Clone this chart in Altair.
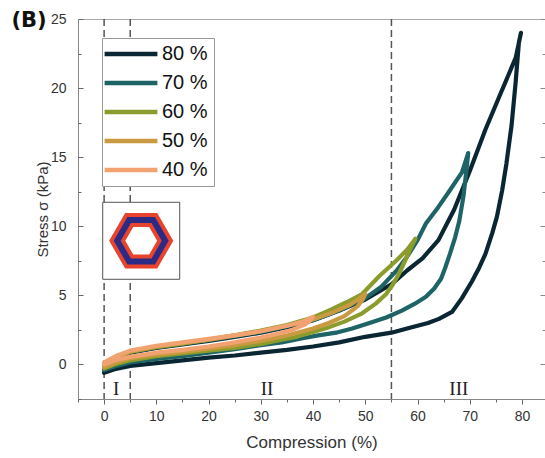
import altair as alt
import pandas as pd

# ---------------- data ----------------
series_names = ["80 %", "70 %", "60 %", "50 %", "40 %"]
series_colors = ["#0b2633", "#1e6466", "#8c9c2c", "#c99a42", "#f2a270"]

x80_load = [0, 1, 2.5, 5, 10, 15, 20, 25, 30, 35, 40, 45, 50, 55, 58, 61, 64, 67, 70, 73, 76, 78.8, 79.8]
y80_load = [-0.4, 0.1, 0.5, 0.85, 1.2, 1.45, 1.7, 2.0, 2.3, 2.7, 3.2, 3.9, 4.7, 5.8, 6.8, 7.7, 9.0, 11.2, 14.0, 17.0, 19.7, 22.2, 24.0]
x80_unload = [79.8, 79.4, 78.8, 78, 77, 76.2, 75.2, 74.3, 73, 71.8, 70.4, 68.5, 66.6, 64.1, 62, 58, 55, 50, 45, 40, 35, 30, 25, 20, 15, 10, 5, 2, 0]
y80_unload = [24.0, 23.3, 20.5, 17.3, 14.5, 12.6, 10.7, 9.5, 8.0, 7.0, 6.0, 4.8, 3.8, 3.3, 3.0, 2.6, 2.3, 2.0, 1.6, 1.3, 1.05, 0.85, 0.65, 0.5, 0.3, 0.1, -0.1, -0.35, -0.6]

x70_load = [0, 2.5, 5, 10, 15, 20, 25, 30, 35, 40, 45, 50, 53, 56, 58, 60, 61.6, 64, 66, 68.5, 69.7]
y70_load = [-0.1, 0.5, 0.9, 1.25, 1.5, 1.75, 2.05, 2.35, 2.75, 3.2, 3.9, 4.8, 5.6, 6.8, 7.8, 9.0, 10.2, 11.4, 12.5, 13.9, 15.3]
x70_unload = [69.7, 69.4, 68.8, 68, 67.2, 66.2, 65.3, 64.5, 63.2, 61.6, 59.5, 57, 54, 50.8, 47.5, 44.4, 41, 38, 34, 30, 25, 20, 15, 10, 5, 2, 0]
y70_unload = [15.3, 14.2, 12.2, 10.4, 9.2, 8.0, 7.0, 6.2, 5.5, 4.9, 4.4, 3.9, 3.4, 3.0, 2.6, 2.3, 2.1, 1.9, 1.6, 1.4, 1.1, 0.85, 0.6, 0.4, 0.15, -0.15, -0.4]

x60_load = [0, 2.5, 5, 10, 15, 20, 25, 30, 35, 40, 43, 46.4, 49.4, 52.7, 55.9, 58, 59.6]
y60_load = [0.0, 0.5, 0.9, 1.25, 1.5, 1.8, 2.1, 2.45, 2.85, 3.4, 3.9, 4.5, 5.1, 6.4, 7.5, 8.3, 9.1]
x60_unload = [59.6, 59.2, 58.8, 57.6, 56.5, 55.3, 54, 52, 49.4, 46, 43.1, 40, 36.8, 33.5, 30.3, 25, 20, 15, 10, 5, 2, 0]
y60_unload = [9.1, 8.8, 8.5, 7.5, 6.6, 5.8, 5.1, 4.4, 3.7, 3.1, 2.7, 2.35, 2.0, 1.75, 1.5, 1.2, 1.0, 0.8, 0.6, 0.3, 0.0, -0.3]

x50_load = [0, 2.5, 5, 10, 15, 20, 25, 30, 35, 40, 44, 47, 49, 50]
y50_load = [0.05, 0.55, 0.95, 1.3, 1.55, 1.8, 2.1, 2.4, 2.8, 3.25, 3.8, 4.3, 4.8, 5.1]
x50_unload = [50, 49.5, 48.5, 46, 43, 40, 35, 30, 25, 20, 15, 10, 5, 2, 0]
y50_unload = [5.1, 4.7, 4.2, 3.5, 3.0, 2.6, 2.1, 1.7, 1.4, 1.15, 0.9, 0.7, 0.45, 0.1, -0.2]

x40_load = [0, 2.5, 5, 10, 15, 20, 25, 30, 35, 38, 40]
y40_load = [0.15, 0.65, 1.0, 1.35, 1.6, 1.85, 2.1, 2.4, 2.8, 3.1, 3.45]
x40_unload = [40, 39.5, 38.5, 36, 33, 30, 25, 20, 15, 10, 5, 2, 0]
y40_unload = [3.45, 3.2, 2.9, 2.5, 2.2, 1.95, 1.6, 1.3, 1.05, 0.85, 0.55, 0.3, 0.0]

dash_x = [0, 5, 55]
region_labels = ["I", "II", "III"]
region_x = [2.3, 31.2, 67.9]
region_y = [-1.75, -1.75, -1.75]

inset_x = [7.1]
inset_y = [8.95]

x_ticks = [-5, 0, 5, 10, 15, 20, 25, 30, 35, 40, 45, 50, 55, 60, 65, 70, 75, 80]
y_ticks = [-2.5, 0, 2.5, 5, 7.5, 10, 12.5, 15, 17.5, 20, 22.5, 25]

# ---------------- tables ----------------
curves = {
    "80 %": (x80_load + x80_unload, y80_load + y80_unload),
    "70 %": (x70_load + x70_unload, y70_load + y70_unload),
    "60 %": (x60_load + x60_unload, y60_load + y60_unload),
    "50 %": (x50_load + x50_unload, y50_load + y50_unload),
    "40 %": (x40_load + x40_unload, y40_load + y40_unload),
}
rows = []
for name, (xs, ys) in curves.items():
    for i, (a, b) in enumerate(zip(xs, ys)):
        rows.append({"series": name, "idx": i, "x": a, "y": b})
df = pd.DataFrame(rows)
df_dash = pd.DataFrame({"x": dash_x})
df_reg = pd.DataFrame({"label": region_labels, "x": region_x, "y": region_y})
df_inset = pd.DataFrame({"x": inset_x, "y": inset_y})

FONT = "Liberation Sans"
xscale = alt.Scale(domain=[-5, 84.4], nice=False, zero=False)
yscale = alt.Scale(domain=[-2.5, 25], nice=False, zero=False)

W, H = 467, 380

x_axis_main = alt.Axis(
    values=x_ticks, title="Compression (%)",
    labelExpr="datum.value >= 0 && datum.value % 10 === 0 ? datum.label : ''",
    grid=False, domainColor="#888", tickColor="#666",
    tickSize={"condition": {"test": "datum.value % 10 !== 0", "value": 3}, "value": 5},
    labelPadding=5, labelFont=FONT, labelFontSize=14, labelColor="#333",
    titleFont=FONT, titleFontSize=17, titleFontWeight="normal", titleColor="#333", titlePadding=11,
)
y_axis_main = alt.Axis(
    values=y_ticks, title="Stress σ (kPa)",
    labelExpr="datum.value >= 0 && datum.value % 5 === 0 ? datum.label : ''",
    grid=False, domainColor="#888", ticks=False, tickSize=0, labelPadding=12,
    labelFont=FONT, labelFontSize=14, labelColor="#333",
    titleFont=FONT, titleFontSize=15, titleFontWeight="normal", titleColor="#333", titlePadding=0,
)

legend = alt.Legend(
    orient="none", legendX=24, legendY=19, title=None,
    symbolType="M-4.8,0H4.8", symbolSize=121, symbolStrokeWidth=4.5,
    symbolOffset=13, labelOffset=21,
    labelFont=FONT, labelFontSize=20, labelColor="#111",
    rowPadding=9, padding=6, strokeColor="#999", fillColor="white",
)

layers = []

# dashed region lines
layers.append(
    alt.Chart(df_dash).mark_rule(color="#555", strokeWidth=1.5, strokeDash=[7, 4]).encode(
        x=alt.X("x:Q", scale=xscale, axis=None)
    )
)

# curves, 80 % drawn first, 40 % last
for k, name in enumerate(series_names):
    first = k == 0
    layers.append(
        alt.Chart(df).transform_filter(alt.datum.series == name).mark_line(
            strokeWidth=4.2, strokeJoin="round", strokeCap="round"
        ).encode(
            x=alt.X("x:Q", scale=xscale, axis=x_axis_main if first else None),
            y=alt.Y("y:Q", scale=yscale, axis=y_axis_main if first else None),
            color=alt.Color("series:N", scale=alt.Scale(domain=series_names, range=series_colors),
                            legend=legend if first else None),
            order="idx:Q",
        )
    )

# region numerals (carry the top frame line and inward left ticks)
layers.append(
    alt.Chart(df_reg).mark_text(font="Liberation Serif", fontSize=19, color="#222").encode(
        x=alt.X("x:Q", scale=xscale, axis=alt.Axis(orient="top", ticks=False, labels=False, title=None,
                                                    grid=False, domainColor="#aaa")),
        y=alt.Y("y:Q", scale=yscale, axis=alt.Axis(orient="right", offset=-W, values=y_ticks, domain=False,
                                                    labels=False, title=None, grid=False, tickColor="#666",
                                                    tickSize={"condition": {"test": "datum.value % 5 !== 0", "value": 3}, "value": 5})),
        text="label:N",
    )
)

# inset frame (also carries inward ticks on the right edge)
layers.append(
    alt.Chart(df_inset).mark_point(shape="square", size=5929, filled=True, fill="white",
                                   stroke="#555", strokeWidth=1, opacity=1).encode(
        x=alt.X("x:Q", scale=xscale, axis=None),
        y=alt.Y("y:Q", scale=yscale, axis=alt.Axis(orient="left", offset=-W, values=y_ticks, domain=False,
                                                    labels=False, title=None, grid=False, tickColor="#888",
                                                    tickSize={"condition": {"test": "datum.value % 5 !== 0", "value": 3}, "value": 5})),
    )
)
hexpath = "M-1,0L-0.5,-0.866L0.5,-0.866L1,0L0.5,0.866L-0.5,0.866Z"
layers.append(
    alt.Chart(df_inset).mark_point(shape=hexpath, size=2304, filled=False, stroke="#e8432c",
                                   strokeWidth=14, strokeJoin="miter", opacity=1).encode(
        x=alt.X("x:Q", scale=xscale, axis=None), y=alt.Y("y:Q", scale=yscale, axis=None)
    )
)
layers.append(
    alt.Chart(df_inset).mark_point(shape=hexpath, size=2304, filled=False, stroke="#2b2a85",
                                   strokeWidth=6, strokeJoin="miter", opacity=1).encode(
        x=alt.X("x:Q", scale=xscale, axis=None), y=alt.Y("y:Q", scale=yscale, axis=None)
    )
)

# panel tag
layers.append(
    alt.Chart(df_inset).mark_text(text="(B)", font="DejaVu Sans", fontWeight="bold", fontSize=21,
                                  color="#111", align="center", baseline="middle").encode(
        x=alt.value(-49), y=alt.value(2)
    )
)

chart = alt.layer(*layers).resolve_axis(x="independent", y="independent").properties(
    width=W, height=H,
    autosize=alt.AutoSizeParams(type="none"),
    padding={"left": 78, "top": 19, "right": 0, "bottom": 59},
).configure_view(stroke=None).configure(background="white")

chart.save("out.html", embed_options={"renderer": "svg", "actions": False})
